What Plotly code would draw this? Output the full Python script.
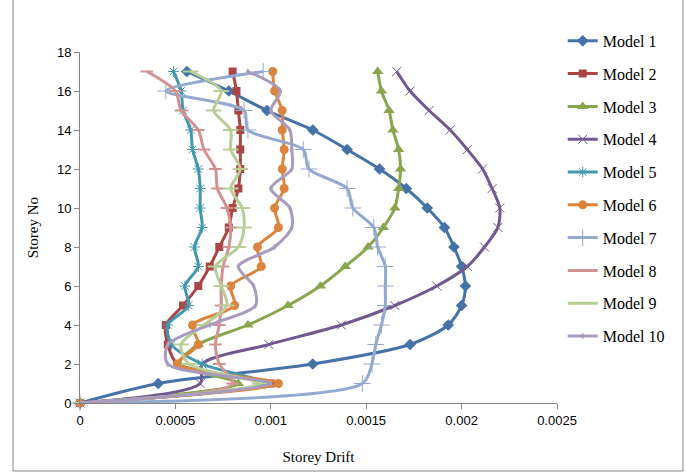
import plotly.graph_objects as go

# Storey numbers (ground = 0) and inter-storey drift for each model
storeys = list(range(18))

model_1 = [0, 0.00041, 0.00122, 0.00173, 0.00193, 0.00200, 0.00202, 0.00200, 0.00196, 0.00191,
           0.00182, 0.00171, 0.00157, 0.00140, 0.00122, 0.00098, 0.00078, 0.00056]
model_2 = [0, 0.00100, 0.00051, 0.00046, 0.00045, 0.00054, 0.00062, 0.00068, 0.00073, 0.00078,
           0.00080, 0.00083, 0.00084, 0.00084, 0.00084, 0.00083, 0.00082, 0.00080]
model_3 = [0, 0.00083, 0.00052, 0.00062, 0.00088, 0.00109, 0.00126, 0.00139, 0.00151, 0.00159,
           0.00165, 0.00167, 0.00168, 0.00167, 0.00164, 0.00162, 0.00158, 0.00156]
model_4 = [0, 0.00063, 0.00064, 0.00099, 0.00137, 0.00165, 0.00187, 0.00203, 0.00212, 0.00219,
           0.00220, 0.00216, 0.00211, 0.00203, 0.00194, 0.00183, 0.00173, 0.00166]
model_5 = [0, 0.00097, 0.00064, 0.00048, 0.00046, 0.00057, 0.00055, 0.00062, 0.00060, 0.00064,
           0.00063, 0.00063, 0.00062, 0.00059, 0.00058, 0.00054, 0.00053, 0.00049]
model_6 = [0, 0.00104, 0.00051, 0.00062, 0.00059, 0.00081, 0.00079, 0.00095, 0.00093, 0.00104,
           0.00102, 0.00107, 0.00106, 0.00107, 0.00106, 0.00106, 0.00102, 0.00101]
model_7 = [0, 0.00148, 0.00153, 0.00155, 0.00158, 0.00160, 0.00160, 0.00160, 0.00156, 0.00154,
           0.00143, 0.00140, 0.00120, 0.00117, 0.00088, 0.00086, 0.00045, 0.00096]
model_8 = [0, 0.00080, 0.00073, 0.00071, 0.00073, 0.00074, 0.00074, 0.00075, 0.00078, 0.00079,
           0.00077, 0.00072, 0.00071, 0.00065, 0.00062, 0.00053, 0.00050, 0.00035]
model_9 = [0, 0.00094, 0.00057, 0.00053, 0.00065, 0.00077, 0.00074, 0.00071, 0.00083, 0.00086,
           0.00085, 0.00079, 0.00084, 0.00079, 0.00079, 0.00070, 0.00074, 0.00058]
model_10 = [0, 0.00100, 0.00046, 0.00046, 0.00068, 0.00092, 0.00091, 0.00083, 0.00102, 0.00111,
            0.00110, 0.00100, 0.00111, 0.00111, 0.00110, 0.00100, 0.00105, 0.00088]

names = ["Model 1", "Model 2", "Model 3", "Model 4", "Model 5",
         "Model 6", "Model 7", "Model 8", "Model 9", "Model 10"]
drifts = [model_1, model_2, model_3, model_4, model_5,
          model_6, model_7, model_8, model_9, model_10]

x_ticks = [0, 0.0005, 0.001, 0.0015, 0.002, 0.0025]
x_tick_text = ["0", "0.0005", "0.001", "0.0015", "0.002", "0.0025"]
y_ticks = list(range(0, 19, 2))

line_colors = ["#4572A7", "#AA4643", "#89A54E", "#71588F", "#4198AF",
               "#DB843D", "#93A9CF", "#D19392", "#B9CD96", "#A99BBD"]
marker_styles = [
    dict(symbol="diamond", size=9, color="#4572A7"),
    dict(symbol="square", size=8, color="#AA4643"),
    dict(symbol="triangle-up", size=10, color="#89A54E"),
    dict(symbol="x-thin-open", size=9, line=dict(color="#A99BBD", width=1)),
    dict(symbol="asterisk-open", size=9, line=dict(color="#8CC8DC", width=1)),
    dict(symbol="circle", size=9, color="#DB843D"),
    dict(symbol="cross-thin-open", size=12, line=dict(color="#93A9CF", width=1)),
    dict(symbol="line-ew-open", size=9, line=dict(color="#D19392", width=2)),
    dict(symbol="line-ew-open", size=11, line=dict(color="#B9CD96", width=2)),
    dict(symbol="diamond-tall", size=5, color="#A99BBD"),
]

fig = go.Figure()
for i, (name, drift) in enumerate(zip(names, drifts)):
    fig.add_trace(go.Scatter(
        x=drift, y=storeys, name=name, mode="lines+markers",
        line=dict(color=line_colors[i], width=3, shape="spline", smoothing=0.8),
        marker=marker_styles[i], cliponaxis=False, legendgroup=name,
    ))

axis_common = dict(showgrid=False, zeroline=False, showline=True, linecolor="#868686",
                   linewidth=1, ticks="outside", ticklen=5, tickcolor="#868686",
                   tickfont=dict(family="Liberation Sans", size=13, color="#000000"))

fig.update_layout(
    width=686, height=474,
    margin=dict(l=80, r=129, t=52, b=71),
    paper_bgcolor="white", plot_bgcolor="white",
    xaxis=dict(range=[0, 0.0025], tickvals=x_ticks, ticktext=x_tick_text,
               title=dict(text="Storey Drift", standoff=24,
                          font=dict(family="Liberation Serif", size=15, color="#000000")),
               **axis_common),
    yaxis=dict(range=[0, 18], tickvals=y_ticks,
               title=dict(text="Storey No", standoff=14,
                          font=dict(family="Liberation Serif", size=15, color="#000000")),
               **axis_common),
    legend=dict(x=1.012, xanchor="left", y=1.08, yanchor="top", tracegroupgap=9,
                font=dict(family="Liberation Serif", size=16, color="#000000"),
                bgcolor="rgba(0,0,0,0)", itemwidth=30, maxheight=460),
    showlegend=True,
)

# Outer chart frame
fig.add_shape(type="rect", xref="paper", yref="paper",
              x0=(13 - 80) / 477, x1=(683 - 80) / 477,
              y0=(403 - 471) / 351, y1=(403 + 2) / 351,
              line=dict(color="#868686", width=1), fillcolor="rgba(0,0,0,0)")

fig.write_html("out.html")
